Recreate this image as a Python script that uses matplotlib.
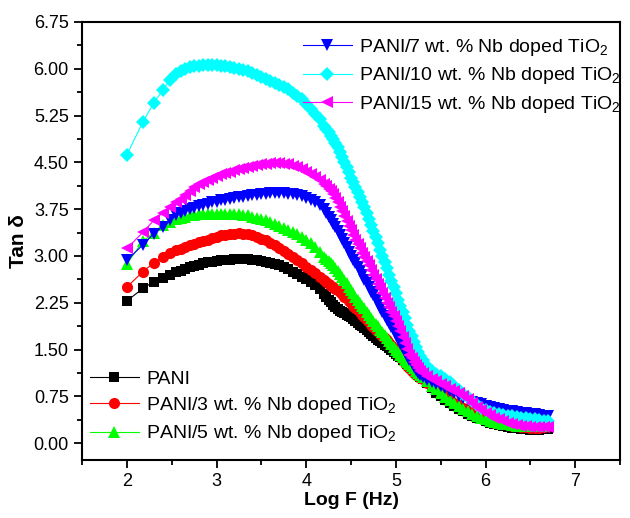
import matplotlib
matplotlib.use("Agg")
import matplotlib.pyplot as plt
from matplotlib.ticker import MultipleLocator, FormatStrFormatter

plt.rcParams['font.family'] = ['Liberation Sans', 'DejaVu Sans']
plt.rcParams['mathtext.default'] = 'regular'

# log frequency (Hz)
log_f = [2.00, 2.18, 2.30, 2.40, 2.48, 2.55, 2.60, 2.65, 2.70, 2.75,
         2.80, 2.85, 2.90, 2.95, 3.00, 3.05, 3.10, 3.15, 3.20, 3.25,
         3.30, 3.35, 3.40, 3.45, 3.50, 3.55, 3.60, 3.65, 3.70, 3.75,
         3.80, 3.85, 3.90, 3.95, 4.00, 4.05, 4.10, 4.15, 4.20, 4.25,
         4.30, 4.35, 4.40, 4.45, 4.50, 4.55, 4.60, 4.65, 4.70, 4.75,
         4.80, 4.85, 4.90, 4.95, 5.00, 5.05, 5.10, 5.15, 5.20, 5.25,
         5.30, 5.35, 5.40, 5.45, 5.50, 5.55, 5.60, 5.65, 5.70, 5.75,
         5.80, 5.85, 5.90, 5.95, 6.00, 6.05, 6.10, 6.15, 6.20, 6.25,
         6.30, 6.35, 6.40, 6.45, 6.50, 6.55, 6.60, 6.65, 6.70]

# extra, denser readings in the steep relaxation region
log_f_mid = [4.225, 4.275, 4.325, 4.375, 4.425, 4.475, 4.525, 4.575, 4.625, 4.675,
             4.725, 4.775, 4.825, 4.875, 4.925, 4.975, 5.025, 5.075, 5.125, 5.175,
             5.225, 5.275]

tan_pani = [2.28, 2.48, 2.59, 2.65, 2.70, 2.74, 2.76, 2.79, 2.82, 2.84,
            2.86, 2.88, 2.90, 2.91, 2.92, 2.93, 2.94, 2.94, 2.95, 2.95,
            2.95, 2.95, 2.94, 2.93, 2.92, 2.90, 2.89, 2.87, 2.85, 2.82,
            2.79, 2.75, 2.71, 2.67, 2.63, 2.59, 2.53, 2.47, 2.39, 2.30,
            2.22, 2.15, 2.10, 2.06, 2.02, 1.96, 1.90, 1.84, 1.78, 1.72,
            1.66, 1.60, 1.55, 1.49, 1.43, 1.38, 1.31, 1.24, 1.17, 1.10,
            1.03, 0.96, 0.88, 0.81, 0.75, 0.69, 0.64, 0.59, 0.55, 0.51,
            0.47, 0.44, 0.41, 0.38, 0.35, 0.33, 0.31, 0.29, 0.27, 0.26,
            0.25, 0.24, 0.23, 0.22, 0.21, 0.21, 0.21, 0.22, 0.23]
tan_pani_mid = [2.35, 2.26, 2.18, 2.12, 2.08, 2.04, 1.99, 1.93, 1.87, 1.81,
                1.75, 1.69, 1.63, 1.57, 1.52, 1.46, 1.40, 1.34, 1.27, 1.20,
                1.13, 1.06]

tan_3 = [2.50, 2.75, 2.89, 2.98, 3.05, 3.09, 3.11, 3.14, 3.17, 3.19,
         3.22, 3.24, 3.26, 3.29, 3.31, 3.33, 3.34, 3.35, 3.36, 3.37,
         3.36, 3.35, 3.33, 3.31, 3.28, 3.25, 3.21, 3.17, 3.13, 3.08,
         3.03, 2.98, 2.93, 2.88, 2.83, 2.78, 2.72, 2.66, 2.61, 2.55,
         2.50, 2.45, 2.39, 2.32, 2.24, 2.17, 2.10, 2.02, 1.94, 1.86,
         1.79, 1.72, 1.65, 1.57, 1.48, 1.38, 1.28, 1.20, 1.13, 1.08,
         1.03, 0.97, 0.92, 0.86, 0.80, 0.75, 0.70, 0.65, 0.61, 0.57,
         0.53, 0.49, 0.45, 0.41, 0.38, 0.35, 0.33, 0.31, 0.30, 0.29,
         0.28, 0.27, 0.26, 0.26, 0.25, 0.25, 0.25, 0.26, 0.27]
tan_3_mid = [2.58, 2.52, 2.47, 2.42, 2.35, 2.28, 2.20, 2.13, 2.06, 1.98,
             1.90, 1.82, 1.75, 1.68, 1.61, 1.52, 1.43, 1.33, 1.24, 1.16,
             1.10, 1.05]

tan_5 = [2.87, 3.24, 3.37, 3.49, 3.55, 3.59, 3.61, 3.63, 3.65, 3.66,
         3.67, 3.68, 3.68, 3.68, 3.68, 3.68, 3.68, 3.67, 3.67, 3.67,
         3.66, 3.65, 3.63, 3.61, 3.59, 3.57, 3.54, 3.51, 3.48, 3.45,
         3.42, 3.38, 3.35, 3.31, 3.26, 3.21, 3.15, 3.07, 2.99, 2.92,
         2.85, 2.76, 2.66, 2.56, 2.45, 2.35, 2.25, 2.16, 2.06, 1.96,
         1.87, 1.78, 1.68, 1.59, 1.50, 1.42, 1.34, 1.27, 1.20, 1.13,
         1.06, 0.99, 0.92, 0.86, 0.80, 0.74, 0.69, 0.64, 0.59, 0.55,
         0.51, 0.47, 0.44, 0.41, 0.38, 0.36, 0.34, 0.32, 0.31, 0.30,
         0.29, 0.28, 0.28, 0.27, 0.27, 0.27, 0.27, 0.28, 0.29]
tan_5_mid = [2.95, 2.88, 2.80, 2.71, 2.61, 2.50, 2.40, 2.30, 2.20, 2.11,
             2.01, 1.91, 1.82, 1.73, 1.63, 1.54, 1.46, 1.38, 1.30, 1.23,
             1.16, 1.09]

tan_7 = [2.93, 3.18, 3.36, 3.47, 3.57, 3.65, 3.69, 3.72, 3.75, 3.77,
         3.80, 3.82, 3.84, 3.86, 3.87, 3.89, 3.90, 3.91, 3.93, 3.94,
         3.95, 3.96, 3.97, 3.98, 3.99, 4.00, 4.01, 4.01, 4.01, 4.01,
         4.00, 3.99, 3.98, 3.96, 3.93, 3.90, 3.86, 3.81, 3.75, 3.63,
         3.52, 3.40, 3.28, 3.14, 3.00, 2.88, 2.76, 2.62, 2.50, 2.37,
         2.24, 2.11, 1.98, 1.86, 1.74, 1.60, 1.46, 1.34, 1.22, 1.13,
         1.06, 1.02, 0.98, 0.95, 0.92, 0.88, 0.84, 0.80, 0.76, 0.72,
         0.69, 0.66, 0.64, 0.62, 0.60, 0.58, 0.56, 0.54, 0.53, 0.52,
         0.51, 0.50, 0.49, 0.48, 0.47, 0.46, 0.45, 0.44, 0.44]
tan_7_mid = [3.69, 3.57, 3.46, 3.34, 3.21, 3.07, 2.94, 2.82, 2.69, 2.56,
             2.43, 2.30, 2.17, 2.04, 1.92, 1.80, 1.67, 1.53, 1.40, 1.28,
             1.17, 1.09]

tan_10 = [4.62, 5.15, 5.45, 5.66, 5.82, 5.92, 5.96, 6.00, 6.03, 6.04,
          6.05, 6.06, 6.06, 6.06, 6.06, 6.05, 6.04, 6.03, 6.01, 6.00,
          5.98, 5.96, 5.93, 5.90, 5.87, 5.84, 5.80, 5.77, 5.74, 5.71,
          5.67, 5.62, 5.57, 5.51, 5.44, 5.36, 5.28, 5.19, 5.09, 4.98,
          4.88, 4.74, 4.58, 4.42, 4.25, 4.10, 3.95, 3.78, 3.60, 3.40,
          3.20, 3.00, 2.80, 2.60, 2.40, 2.20, 2.00, 1.80, 1.62, 1.46,
          1.33, 1.23, 1.16, 1.11, 1.07, 1.03, 0.98, 0.91, 0.85, 0.79,
          0.74, 0.67, 0.61, 0.56, 0.53, 0.50, 0.48, 0.46, 0.45, 0.44,
          0.43, 0.42, 0.41, 0.40, 0.39, 0.38, 0.37, 0.36, 0.36]
tan_10_mid = [5.04, 4.93, 4.81, 4.66, 4.50, 4.34, 4.18, 4.03, 3.87, 3.69,
              3.50, 3.30, 3.10, 2.90, 2.70, 2.50, 2.30, 2.10, 1.90, 1.71,
              1.54, 1.39]

tan_15 = [3.12, 3.38, 3.57, 3.69, 3.78, 3.87, 3.92, 3.98, 4.04, 4.10,
          4.15, 4.19, 4.22, 4.25, 4.28, 4.31, 4.33, 4.35, 4.37, 4.39,
          4.41, 4.43, 4.44, 4.46, 4.47, 4.48, 4.49, 4.49, 4.49, 4.48,
          4.47, 4.45, 4.42, 4.39, 4.35, 4.31, 4.26, 4.21, 4.15, 4.08,
          4.00, 3.86, 3.72, 3.56, 3.41, 3.26, 3.12, 2.98, 2.85, 2.70,
          2.55, 2.40, 2.25, 2.10, 1.95, 1.80, 1.60, 1.42, 1.30, 1.20,
          1.12, 1.07, 1.03, 0.99, 0.95, 0.91, 0.87, 0.83, 0.80, 0.75,
          0.70, 0.64, 0.58, 0.53, 0.49, 0.45, 0.41, 0.38, 0.36, 0.33,
          0.31, 0.29, 0.28, 0.27, 0.26, 0.26, 0.26, 0.26, 0.26]
tan_15_mid = [4.12, 4.04, 3.93, 3.79, 3.64, 3.48, 3.33, 3.19, 3.05, 2.92,
              2.78, 2.63, 2.48, 2.33, 2.18, 2.03, 1.88, 1.70, 1.51, 1.36,
              1.25, 1.16]

labels = ["PANI",
          "PANI/3 wt. % Nb doped TiO$_2$",
          "PANI/5 wt. % Nb doped TiO$_2$",
          "PANI/7 wt. % Nb doped TiO$_2$",
          "PANI/10 wt. % Nb doped TiO$_2$",
          "PANI/15 wt. % Nb doped TiO$_2$"]
series = [tan_pani, tan_3, tan_5, tan_7, tan_10, tan_15]
series_mid = [tan_pani_mid, tan_3_mid, tan_5_mid, tan_7_mid, tan_10_mid, tan_15_mid]
colors = ["#000000", "#FF0000", "#00FF00", "#0000FF", "#00FFFF", "#FF00FF"]
markers = ["s", "o", "^", "v", "D", "<"]
msizes = [6.5, 8.0, 8.5, 8.5, 6.8, 8.5]

fig = plt.figure(figsize=(6.3, 5.18), dpi=100)
ax = fig.add_axes([82/630, 58/518, 538/630, 438/518])

handles = []
for y, ym, c, m, ms, lab in zip(series, series_mid, colors, markers, msizes, labels):
    pts = sorted(zip(log_f + log_f_mid, y + ym))
    xs = [p[0] for p in pts]
    ys = [p[1] for p in pts]
    h, = ax.plot(xs, ys, color=c, marker=m, markersize=ms, markeredgewidth=0,
                 linewidth=0.8, label=lab)
    handles.append(h)

ax.set_xlim(1.5, 7.5)
ax.set_ylim(-0.27, 6.75)
ax.xaxis.set_major_locator(MultipleLocator(1))
ax.xaxis.set_minor_locator(MultipleLocator(0.5))
ax.yaxis.set_major_locator(MultipleLocator(0.75))
ax.yaxis.set_minor_locator(MultipleLocator(0.375))
ax.yaxis.set_major_formatter(FormatStrFormatter('%.2f'))
ax.tick_params(which='major', direction='out', length=6, width=1.3, labelsize=13, pad=3.5)
ax.tick_params(which='minor', direction='out', length=3.5, width=1.3)
for s in ax.spines.values():
    s.set_linewidth(1.5)

ax.set_xlabel("Log F (Hz)", fontsize=14, fontweight='bold')
ax.set_ylabel("Tan δ", fontsize=15, fontweight='bold')
ax.xaxis.set_label_coords(0.5, -0.072)
ax.yaxis.set_label_coords(-0.100, 0.5)
ax.xaxis.label.set_va('top')

leg1 = ax.legend(handles[3:], labels[3:], loc='upper left', frameon=False,
                 bbox_to_anchor=(303/630, 1 - 37/518), bbox_transform=fig.transFigure,
                 fontsize=14, numpoints=1, handlelength=2.5, handletextpad=0.4,
                 labelspacing=0.38, borderpad=0, borderaxespad=0)
ax.add_artist(leg1)
leg2 = ax.legend(handles[:3], labels[:3], loc='upper left', frameon=False,
                 bbox_to_anchor=(90/630, 1 - 370/518), bbox_transform=fig.transFigure,
                 fontsize=14, numpoints=1, handlelength=2.5, handletextpad=0.4,
                 labelspacing=0.38, borderpad=0, borderaxespad=0)

fig.savefig("out.png", dpi=100)
